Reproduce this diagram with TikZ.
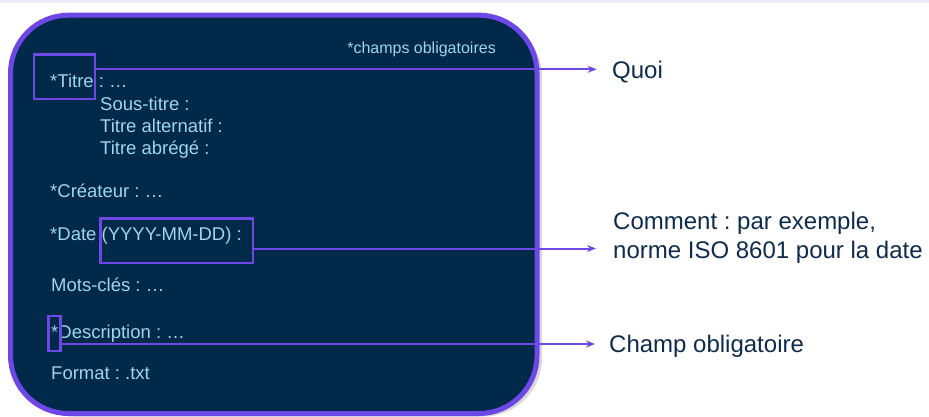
\documentclass[tikz,border=0pt]{standalone}
\usepackage{fontspec}
\setmainfont{Liberation Sans}
\usepackage{tikz}
\usetikzlibrary{shapes}
\usetikzlibrary{positioning}
\usetikzlibrary{arrows.meta}
\usetikzlibrary{shadows}
\usepackage{xcolor}
\definecolor{navy}{RGB}{1,41,74}
\definecolor{hlpurple}{RGB}{110,72,230}
\definecolor{sky}{RGB}{160,212,240}
\definecolor{ink}{RGB}{14,43,76}
\definecolor{strip}{RGB}{238,235,250}
\frenchspacing

\begin{document}
\begin{tikzpicture}[x=1pt,y=-1pt,
  field/.style={anchor=base west,inner sep=0,text=sky,font=\fontsize{18.5}{22}\selectfont},
  hl/.style={draw=hlpurple,line width=2.2pt,inner sep=0},
  note/.style={anchor=base west,inner sep=0,text=ink,font=\fontsize{24}{29}\selectfont},
  link/.style={draw=hlpurple,line width=2pt,-{Stealth[length=9pt,width=7pt]}}]
\useasboundingbox (0,0) rectangle (929,417);
\fill[strip] (0,0) rectangle (929,3);
% the form card
\draw[hlpurple,line width=5pt,fill=navy,rounded corners=58pt,
  drop shadow={shadow xshift=5pt,shadow yshift=-3pt,opacity=.25,fill=black!60}]
  (10.5,15.2) rectangle (537,413.5);
\node[anchor=base east,inner sep=0,text=sky,font=\fontsize{16}{19}\selectfont] (oblig) at (496,54) {*champs obligatoires};
\node[field] (titre) at (50,87.5) {*Titre : …};
\node[field] (soustitre) at (100,110.5) {Sous-titre :};
\node[field] (alternatif) at (100,132.5) {Titre alternatif :};
\node[field] (abrege) at (100,154.5) {Titre abrégé :};
\node[field] (createur) at (50,197) {*Créateur : …};
\node[field] (date) at (50,240.5) {*Date (YYYY-MM-DD) :};
\node[field] (motscles) at (51,291.5) {Mots-clés : …};
\node[field] (description) at (51,338) {*Description : …};
\node[field] (format) at (51,379.5) {Format : .txt};
% highlights
\node[hl,minimum width=61pt,minimum height=44.5pt] (boxTitre) at (64.5,76.75) {};
\node[hl,minimum width=152.5pt,minimum height=44.5pt] (boxDate) at (176.75,240.75) {};
\node[hl,minimum width=12pt,minimum height=35pt] (boxStar) at (54.5,333.5) {};
% notes on the right
\node[note] (quoi) at (612,78.6) {Quoi};
\node[note] (comment) at (613,229.6) {Comment : par exemple,};
\node[note] (norme) at (613,258.2) {norme ISO 8601 pour la date};
\node[note] (champ) at (609,352.3) {Champ obligatoire};
\coordinate (tipQuoi) at (596.7,69.3);
\coordinate (tipDate) at (596,248.5);
\coordinate (tipChamp) at (595,344);
\draw[link] (boxTitre.east |- tipQuoi) -- (tipQuoi);
\draw[link] (boxDate.east |- tipDate) -- (tipDate);
\draw[link] (boxStar.east |- tipChamp) -- (tipChamp);
\end{tikzpicture}
\end{document}
